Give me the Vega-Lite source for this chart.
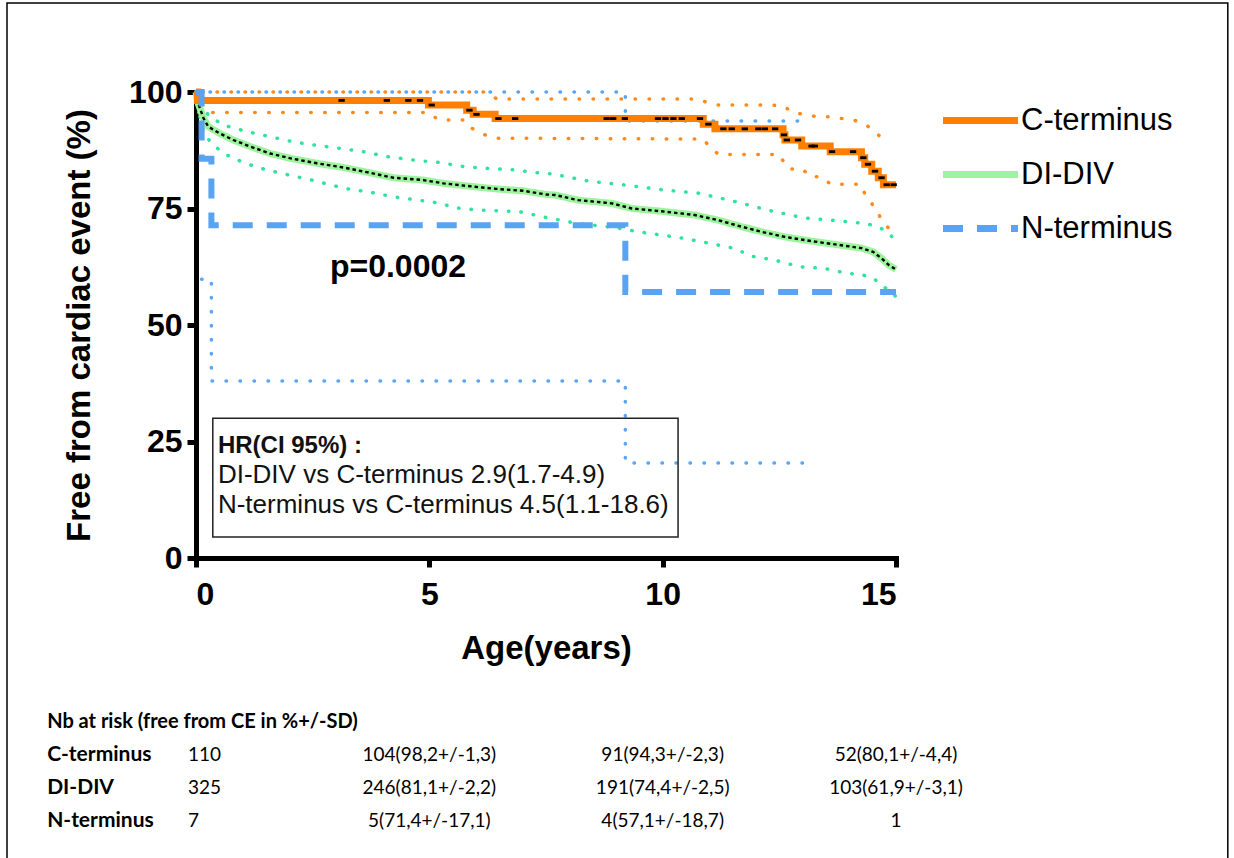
{
  "$schema": "https://vega.github.io/schema/vega-lite/v6.json",
  "width": 700,
  "height": 466,
  "autosize": "none",
  "padding": {"left": 196, "top": 92, "right": 338, "bottom": 300},
  "background": "white",
  "config": {
    "view": {"stroke": null},
    "font": "Liberation Sans",
    "axis": {
      "grid": false,
      "domainColor": "black",
      "domainWidth": 5,
      "domainCap": "square",
      "tickColor": "black",
      "tickWidth": 5,
      "tickSize": 9,
      "labelFont": "Liberation Sans",
      "labelFontWeight": "bold",
      "labelFontSize": 32,
      "labelColor": "black",
      "titleFont": "Liberation Sans",
      "titleFontWeight": "bold",
      "titleFontSize": 33,
      "titleColor": "black"
    },
    "axisX": {"labelPadding": 12, "titlePadding": 22},
    "axisY": {"labelPadding": 5, "titlePadding": 32}
  },
  "datasets": {
    "km": [
      {"g": "C-terminus", "t": 0, "s": 100},
      {"g": "C-terminus", "t": 0.03, "s": 98.2},
      {"g": "C-terminus", "t": 4.98, "s": 97.2},
      {"g": "C-terminus", "t": 5.8, "s": 96.1},
      {"g": "C-terminus", "t": 5.94, "s": 95.2},
      {"g": "C-terminus", "t": 6.41, "s": 94.3},
      {"g": "C-terminus", "t": 10.87, "s": 93.1},
      {"g": "C-terminus", "t": 11.12, "s": 92.1},
      {"g": "C-terminus", "t": 12.58, "s": 90.8},
      {"g": "C-terminus", "t": 12.62, "s": 89.7},
      {"g": "C-terminus", "t": 12.98, "s": 88.4},
      {"g": "C-terminus", "t": 13.59, "s": 87.2},
      {"g": "C-terminus", "t": 14.26, "s": 85.9},
      {"g": "C-terminus", "t": 14.33, "s": 84.5},
      {"g": "C-terminus", "t": 14.48, "s": 83.0},
      {"g": "C-terminus", "t": 14.62, "s": 81.6},
      {"g": "C-terminus", "t": 14.73, "s": 80.1},
      {"g": "C-terminus", "t": 15.0, "s": 80.1},
      {"g": "DI-DIV", "t": 0, "s": 100},
      {"g": "DI-DIV", "t": 0.05, "s": 97.5},
      {"g": "DI-DIV", "t": 0.16, "s": 94.4},
      {"g": "DI-DIV", "t": 0.26, "s": 92.6},
      {"g": "DI-DIV", "t": 0.51, "s": 91.1},
      {"g": "DI-DIV", "t": 0.8, "s": 89.7},
      {"g": "DI-DIV", "t": 1.16, "s": 88.3},
      {"g": "DI-DIV", "t": 1.59, "s": 86.8},
      {"g": "DI-DIV", "t": 2.01, "s": 85.8},
      {"g": "DI-DIV", "t": 2.59, "s": 84.7},
      {"g": "DI-DIV", "t": 3.16, "s": 83.8},
      {"g": "DI-DIV", "t": 3.66, "s": 82.8},
      {"g": "DI-DIV", "t": 4.23, "s": 81.6},
      {"g": "DI-DIV", "t": 4.87, "s": 81.1},
      {"g": "DI-DIV", "t": 5.3, "s": 80.4},
      {"g": "DI-DIV", "t": 5.94, "s": 79.7},
      {"g": "DI-DIV", "t": 6.44, "s": 79.2},
      {"g": "DI-DIV", "t": 7.01, "s": 78.8},
      {"g": "DI-DIV", "t": 7.51, "s": 78.0},
      {"g": "DI-DIV", "t": 7.69, "s": 77.9},
      {"g": "DI-DIV", "t": 8.19, "s": 76.8},
      {"g": "DI-DIV", "t": 8.91, "s": 76.1},
      {"g": "DI-DIV", "t": 9.34, "s": 75.0},
      {"g": "DI-DIV", "t": 9.98, "s": 74.4},
      {"g": "DI-DIV", "t": 10.69, "s": 73.6},
      {"g": "DI-DIV", "t": 11.19, "s": 72.5},
      {"g": "DI-DIV", "t": 11.69, "s": 71.1},
      {"g": "DI-DIV", "t": 12.12, "s": 70.0},
      {"g": "DI-DIV", "t": 12.62, "s": 68.9},
      {"g": "DI-DIV", "t": 13.19, "s": 68.0},
      {"g": "DI-DIV", "t": 13.69, "s": 67.3},
      {"g": "DI-DIV", "t": 14.26, "s": 66.5},
      {"g": "DI-DIV", "t": 14.51, "s": 65.7},
      {"g": "DI-DIV", "t": 14.69, "s": 64.3},
      {"g": "DI-DIV", "t": 14.84, "s": 62.9},
      {"g": "DI-DIV", "t": 15.0, "s": 61.9},
      {"g": "N-terminus", "t": 0, "s": 100},
      {"g": "N-terminus", "t": 0.12, "s": 85.7},
      {"g": "N-terminus", "t": 0.33, "s": 71.4},
      {"g": "N-terminus", "t": 9.2, "s": 57.1},
      {"g": "N-terminus", "t": 15.0, "s": 57.1}
    ],
    "ci": [
      {"g": "C-terminus", "b": "upper", "t": 0, "s": 100},
      {"g": "C-terminus", "b": "upper", "t": 6.2, "s": 100},
      {"g": "C-terminus", "b": "upper", "t": 6.45, "s": 98.5},
      {"g": "C-terminus", "b": "upper", "t": 10.75, "s": 98.5},
      {"g": "C-terminus", "b": "upper", "t": 10.91, "s": 97.9},
      {"g": "C-terminus", "b": "upper", "t": 11.16, "s": 97.2},
      {"g": "C-terminus", "b": "upper", "t": 12.34, "s": 97.2},
      {"g": "C-terminus", "b": "upper", "t": 12.61, "s": 96.9},
      {"g": "C-terminus", "b": "upper", "t": 12.77, "s": 95.6},
      {"g": "C-terminus", "b": "upper", "t": 13.02, "s": 95.2},
      {"g": "C-terminus", "b": "upper", "t": 13.3, "s": 94.7},
      {"g": "C-terminus", "b": "upper", "t": 13.59, "s": 94.7},
      {"g": "C-terminus", "b": "upper", "t": 13.84, "s": 94.3},
      {"g": "C-terminus", "b": "upper", "t": 14.09, "s": 94.0},
      {"g": "C-terminus", "b": "upper", "t": 14.33, "s": 93.1},
      {"g": "C-terminus", "b": "upper", "t": 14.52, "s": 91.8},
      {"g": "C-terminus", "b": "upper", "t": 14.66, "s": 90.4},
      {"g": "C-terminus", "b": "upper", "t": 14.76, "s": 88.6},
      {"g": "C-terminus", "b": "lower", "t": 0, "s": 100},
      {"g": "C-terminus", "b": "lower", "t": 0.05, "s": 95.6},
      {"g": "C-terminus", "b": "lower", "t": 4.98, "s": 95.6},
      {"g": "C-terminus", "b": "lower", "t": 5.2, "s": 94.0},
      {"g": "C-terminus", "b": "lower", "t": 5.75, "s": 94.0},
      {"g": "C-terminus", "b": "lower", "t": 5.85, "s": 92.6},
      {"g": "C-terminus", "b": "lower", "t": 6.1, "s": 91.1},
      {"g": "C-terminus", "b": "lower", "t": 6.41, "s": 90.1},
      {"g": "C-terminus", "b": "lower", "t": 10.87, "s": 89.9},
      {"g": "C-terminus", "b": "lower", "t": 11.0, "s": 88.3},
      {"g": "C-terminus", "b": "lower", "t": 11.2, "s": 86.6},
      {"g": "C-terminus", "b": "lower", "t": 12.5, "s": 86.6},
      {"g": "C-terminus", "b": "lower", "t": 12.58, "s": 85.2},
      {"g": "C-terminus", "b": "lower", "t": 12.7, "s": 83.5},
      {"g": "C-terminus", "b": "lower", "t": 13.0, "s": 83.5},
      {"g": "C-terminus", "b": "lower", "t": 13.15, "s": 81.8},
      {"g": "C-terminus", "b": "lower", "t": 13.4, "s": 81.8},
      {"g": "C-terminus", "b": "lower", "t": 13.6, "s": 80.2},
      {"g": "C-terminus", "b": "lower", "t": 14.25, "s": 80.2},
      {"g": "C-terminus", "b": "lower", "t": 14.33, "s": 78.2},
      {"g": "C-terminus", "b": "lower", "t": 14.45, "s": 76.6},
      {"g": "C-terminus", "b": "lower", "t": 14.55, "s": 74.9},
      {"g": "C-terminus", "b": "lower", "t": 14.66, "s": 73.2},
      {"g": "C-terminus", "b": "lower", "t": 14.78, "s": 71.5},
      {"g": "C-terminus", "b": "lower", "t": 14.95, "s": 69.5},
      {"g": "DI-DIV", "b": "upper", "t": 0, "s": 100},
      {"g": "DI-DIV", "b": "upper", "t": 0.1, "s": 97.0},
      {"g": "DI-DIV", "b": "upper", "t": 0.3, "s": 94.7},
      {"g": "DI-DIV", "b": "upper", "t": 0.59, "s": 92.9},
      {"g": "DI-DIV", "b": "upper", "t": 1.09, "s": 91.5},
      {"g": "DI-DIV", "b": "upper", "t": 1.59, "s": 90.4},
      {"g": "DI-DIV", "b": "upper", "t": 2.09, "s": 89.3},
      {"g": "DI-DIV", "b": "upper", "t": 2.55, "s": 88.6},
      {"g": "DI-DIV", "b": "upper", "t": 3.09, "s": 87.9},
      {"g": "DI-DIV", "b": "upper", "t": 3.58, "s": 87.2},
      {"g": "DI-DIV", "b": "upper", "t": 4.12, "s": 86.1},
      {"g": "DI-DIV", "b": "upper", "t": 4.66, "s": 85.4},
      {"g": "DI-DIV", "b": "upper", "t": 5.19, "s": 84.9},
      {"g": "DI-DIV", "b": "upper", "t": 5.73, "s": 84.0},
      {"g": "DI-DIV", "b": "upper", "t": 6.26, "s": 83.6},
      {"g": "DI-DIV", "b": "upper", "t": 6.8, "s": 83.3},
      {"g": "DI-DIV", "b": "upper", "t": 7.37, "s": 82.6},
      {"g": "DI-DIV", "b": "upper", "t": 7.65, "s": 82.4},
      {"g": "DI-DIV", "b": "upper", "t": 8.4, "s": 80.9},
      {"g": "DI-DIV", "b": "upper", "t": 9.23, "s": 80.0},
      {"g": "DI-DIV", "b": "upper", "t": 10.0, "s": 79.0},
      {"g": "DI-DIV", "b": "upper", "t": 10.76, "s": 78.3},
      {"g": "DI-DIV", "b": "upper", "t": 11.55, "s": 76.5},
      {"g": "DI-DIV", "b": "upper", "t": 12.23, "s": 74.7},
      {"g": "DI-DIV", "b": "upper", "t": 13.01, "s": 73.0},
      {"g": "DI-DIV", "b": "upper", "t": 13.84, "s": 72.3},
      {"g": "DI-DIV", "b": "upper", "t": 14.33, "s": 71.8},
      {"g": "DI-DIV", "b": "upper", "t": 14.62, "s": 71.1},
      {"g": "DI-DIV", "b": "upper", "t": 14.8, "s": 70.0},
      {"g": "DI-DIV", "b": "upper", "t": 15.0, "s": 68.2},
      {"g": "DI-DIV", "b": "lower", "t": 0, "s": 100},
      {"g": "DI-DIV", "b": "lower", "t": 0.05, "s": 96.0},
      {"g": "DI-DIV", "b": "lower", "t": 0.15, "s": 92.0},
      {"g": "DI-DIV", "b": "lower", "t": 0.3, "s": 89.3},
      {"g": "DI-DIV", "b": "lower", "t": 0.59, "s": 86.8},
      {"g": "DI-DIV", "b": "lower", "t": 1.05, "s": 84.7},
      {"g": "DI-DIV", "b": "lower", "t": 1.51, "s": 83.3},
      {"g": "DI-DIV", "b": "lower", "t": 1.98, "s": 82.2},
      {"g": "DI-DIV", "b": "lower", "t": 2.48, "s": 81.1},
      {"g": "DI-DIV", "b": "lower", "t": 3.19, "s": 79.3},
      {"g": "DI-DIV", "b": "lower", "t": 3.73, "s": 78.5},
      {"g": "DI-DIV", "b": "lower", "t": 4.23, "s": 77.5},
      {"g": "DI-DIV", "b": "lower", "t": 4.76, "s": 76.8},
      {"g": "DI-DIV", "b": "lower", "t": 5.26, "s": 76.1},
      {"g": "DI-DIV", "b": "lower", "t": 5.51, "s": 75.2},
      {"g": "DI-DIV", "b": "lower", "t": 6.01, "s": 74.7},
      {"g": "DI-DIV", "b": "lower", "t": 6.94, "s": 74.3},
      {"g": "DI-DIV", "b": "lower", "t": 7.44, "s": 73.2},
      {"g": "DI-DIV", "b": "lower", "t": 8.16, "s": 71.8},
      {"g": "DI-DIV", "b": "lower", "t": 8.98, "s": 70.9},
      {"g": "DI-DIV", "b": "lower", "t": 9.48, "s": 70.0},
      {"g": "DI-DIV", "b": "lower", "t": 9.98, "s": 69.3},
      {"g": "DI-DIV", "b": "lower", "t": 10.51, "s": 68.5},
      {"g": "DI-DIV", "b": "lower", "t": 11.01, "s": 67.5},
      {"g": "DI-DIV", "b": "lower", "t": 11.51, "s": 66.5},
      {"g": "DI-DIV", "b": "lower", "t": 11.94, "s": 64.7},
      {"g": "DI-DIV", "b": "lower", "t": 12.41, "s": 63.9},
      {"g": "DI-DIV", "b": "lower", "t": 12.94, "s": 62.5},
      {"g": "DI-DIV", "b": "lower", "t": 13.44, "s": 62.2},
      {"g": "DI-DIV", "b": "lower", "t": 13.94, "s": 61.1},
      {"g": "DI-DIV", "b": "lower", "t": 14.23, "s": 60.9},
      {"g": "DI-DIV", "b": "lower", "t": 14.48, "s": 60.2},
      {"g": "DI-DIV", "b": "lower", "t": 14.66, "s": 59.0},
      {"g": "DI-DIV", "b": "lower", "t": 14.8, "s": 57.7},
      {"g": "DI-DIV", "b": "lower", "t": 15.0, "s": 56.1},
      {"g": "N-terminus", "b": "upper", "t": 0, "s": 100},
      {"g": "N-terminus", "b": "upper", "t": 9.2, "s": 93.8},
      {"g": "N-terminus", "b": "upper", "t": 13.0, "s": 93.8},
      {"g": "N-terminus", "b": "lower", "t": 0.12, "s": 59.8},
      {"g": "N-terminus", "b": "lower", "t": 0.33, "s": 38.0},
      {"g": "N-terminus", "b": "lower", "t": 9.2, "s": 20.4},
      {"g": "N-terminus", "b": "lower", "t": 13.0, "s": 20.4}
    ],
    "censor": [
      {"t": 3.12, "s": 98.2}, {"t": 4.09, "s": 98.2}, {"t": 4.55, "s": 98.2}, {"t": 4.8, "s": 98.2},
      {"t": 5.05, "s": 97.2}, {"t": 5.86, "s": 96.1}, {"t": 6.01, "s": 95.2}, {"t": 6.48, "s": 94.3},
      {"t": 6.84, "s": 94.3}, {"t": 8.8, "s": 94.3}, {"t": 8.94, "s": 94.3}, {"t": 9.19, "s": 94.3},
      {"t": 9.9, "s": 94.3}, {"t": 10.06, "s": 94.3}, {"t": 10.23, "s": 94.3}, {"t": 10.41, "s": 94.3},
      {"t": 10.8, "s": 94.3}, {"t": 10.98, "s": 93.1}, {"t": 11.3, "s": 92.1}, {"t": 11.48, "s": 92.1},
      {"t": 11.76, "s": 92.1}, {"t": 12.05, "s": 92.1}, {"t": 12.19, "s": 92.1}, {"t": 12.41, "s": 92.1},
      {"t": 12.6, "s": 90.8}, {"t": 12.66, "s": 89.7}, {"t": 12.9, "s": 89.7}, {"t": 13.19, "s": 88.4},
      {"t": 13.26, "s": 88.4}, {"t": 13.63, "s": 87.2}, {"t": 14.08, "s": 87.2}, {"t": 14.3, "s": 85.9},
      {"t": 14.4, "s": 84.5}, {"t": 14.55, "s": 83.0}, {"t": 14.69, "s": 81.6}, {"t": 14.8, "s": 80.1},
      {"t": 14.95, "s": 80.1}
    ],
    "table": [
      {"row": "C-terminus", "t": 0, "text": "110"},
      {"row": "C-terminus", "t": 5, "text": "104(98,2+/-1,3)"},
      {"row": "C-terminus", "t": 10, "text": "91(94,3+/-2,3)"},
      {"row": "C-terminus", "t": 15, "text": "52(80,1+/-4,4)"},
      {"row": "DI-DIV", "t": 0, "text": "325"},
      {"row": "DI-DIV", "t": 5, "text": "246(81,1+/-2,2)"},
      {"row": "DI-DIV", "t": 10, "text": "191(74,4+/-2,5)"},
      {"row": "DI-DIV", "t": 15, "text": "103(61,9+/-3,1)"},
      {"row": "N-terminus", "t": 0, "text": "7"},
      {"row": "N-terminus", "t": 5, "text": "5(71,4+/-17,1)"},
      {"row": "N-terminus", "t": 10, "text": "4(57,1+/-18,7)"},
      {"row": "N-terminus", "t": 15, "text": "1"}
    ]
  },
  "layer": [
    {
      "layer": [
        {
          "data": {"name": "ci"},
          "transform": [{"filter": "datum.g == 'DI-DIV'"}],
          "mark": {"type": "line", "color": "#30e39d", "strokeWidth": 3.5, "strokeDash": [0.5, 12], "strokeCap": "round", "interpolate": "linear"},
          "encoding": {
            "x": {"field": "t", "type": "quantitative", "scale": {"domain": [0, 15], "nice": false}, "title": "Age(years)", "axis": {"values": [0, 5, 10, 15]}},
            "y": {"field": "s", "type": "quantitative", "scale": {"domain": [0, 100], "nice": false}, "title": "Free from cardiac event (%)", "axis": {"values": [0, 25, 50, 75, 100]}},
            "detail": {"field": "b"}
          }
        },
        {
          "data": {"name": "ci"},
          "transform": [{"filter": "datum.g == 'C-terminus'"}],
          "mark": {"type": "line", "color": "#ff8a1c", "strokeWidth": 3.5, "strokeDash": [0.5, 13.5], "strokeDashOffset": 7, "strokeCap": "round", "interpolate": "linear"},
          "encoding": {
            "x": {"field": "t", "type": "quantitative", "title": "Age(years)"},
            "y": {"field": "s", "type": "quantitative", "title": "Free from cardiac event (%)"},
            "detail": {"field": "b"}
          }
        },
        {
          "data": {"name": "ci"},
          "transform": [{"filter": "datum.g == 'N-terminus'"}],
          "mark": {"type": "line", "color": "#5aa5f5", "strokeWidth": 3.5, "strokeDash": [0.5, 13.5], "strokeCap": "round", "interpolate": "step-after"},
          "encoding": {
            "x": {"field": "t", "type": "quantitative", "title": "Age(years)"},
            "y": {"field": "s", "type": "quantitative", "title": "Free from cardiac event (%)"},
            "detail": {"field": "b"}
          }
        },
        {
          "data": {"name": "km"},
          "transform": [{"filter": "datum.g == 'DI-DIV'"}],
          "mark": {"type": "line", "strokeWidth": 7, "interpolate": "linear"},
          "encoding": {
            "x": {"field": "t", "type": "quantitative", "title": "Age(years)"},
            "y": {"field": "s", "type": "quantitative", "title": "Free from cardiac event (%)"},
            "color": {"field": "g", "type": "nominal", "scale": {"domain": ["C-terminus", "DI-DIV", "N-terminus"], "range": ["#ff8000", "#9cf59c", "#5aa2f2"]},
              "legend": {"title": null, "symbolType": "M-2.5,0H2.5", "symbolSize": 900, "symbolStrokeWidth": 7, "labelFont": "Liberation Sans", "labelFontSize": 31, "labelFontWeight": "normal", "labelColor": "black", "rowPadding": 20, "labelOffset": 22, "offset": 42, "padding": 10, "orient": "right"}},
            "strokeDash": {"field": "g", "type": "nominal", "scale": {"domain": ["C-terminus", "DI-DIV", "N-terminus"], "range": [[1, 0], [1, 0], [20, 14]]}}
          }
        },
        {
          "data": {"name": "km"},
          "transform": [{"filter": "datum.g == 'DI-DIV'"}],
          "mark": {"type": "line", "strokeWidth": 2.4, "color": "black", "strokeDash": [3.5, 3], "interpolate": "linear"},
          "encoding": {
            "x": {"field": "t", "type": "quantitative", "title": "Age(years)"},
            "y": {"field": "s", "type": "quantitative", "title": "Free from cardiac event (%)"}
          }
        },
        {
          "data": {"name": "km"},
          "transform": [{"filter": "datum.g == 'C-terminus'"}],
          "mark": {"type": "line", "strokeWidth": 7, "interpolate": "step-after"},
          "encoding": {
            "x": {"field": "t", "type": "quantitative", "title": "Age(years)"},
            "y": {"field": "s", "type": "quantitative", "title": "Free from cardiac event (%)"},
            "color": {"field": "g", "type": "nominal", "scale": {"domain": ["C-terminus", "DI-DIV", "N-terminus"], "range": ["#ff8000", "#9cf59c", "#5aa2f2"]}},
            "strokeDash": {"field": "g", "type": "nominal", "scale": {"domain": ["C-terminus", "DI-DIV", "N-terminus"], "range": [[1, 0], [1, 0], [20, 14]]}}
          }
        },
        {
          "data": {"name": "km"},
          "transform": [{"filter": "datum.g == 'N-terminus'"}],
          "mark": {"type": "line", "strokeWidth": 6, "interpolate": "step-after"},
          "encoding": {
            "x": {"field": "t", "type": "quantitative", "title": "Age(years)"},
            "y": {"field": "s", "type": "quantitative", "title": "Free from cardiac event (%)"},
            "color": {"field": "g", "type": "nominal", "scale": {"domain": ["C-terminus", "DI-DIV", "N-terminus"], "range": ["#ff8000", "#9cf59c", "#5aa2f2"]}},
            "strokeDash": {"field": "g", "type": "nominal", "scale": {"domain": ["C-terminus", "DI-DIV", "N-terminus"], "range": [[1, 0], [1, 0], [20, 14]]}}
          }
        },
        {
          "data": {"name": "censor"},
          "mark": {"type": "point", "shape": "M-1,-0.45H1V0.45H-1Z", "size": 40, "filled": true, "color": "black", "opacity": 1},
          "encoding": {
            "x": {"field": "t", "type": "quantitative", "title": "Age(years)"},
            "y": {"field": "s", "type": "quantitative", "title": "Free from cardiac event (%)"}
          }
        },
        {
          "data": {"values": [{"note": "p=0.0002"}]},
          "mark": {"type": "text", "align": "left", "baseline": "alphabetic", "font": "Liberation Sans", "fontWeight": "bold", "fontSize": 32, "color": "black"},
          "encoding": {"x": {"datum": 2.87}, "y": {"datum": 60.3}, "text": {"field": "note"}}
        },
        {
          "data": {"values": [{"box": "HR"}]},
          "mark": {"type": "rect", "fill": null, "fillOpacity": 0, "stroke": "#222222", "strokeWidth": 1.5},
          "encoding": {"x": {"datum": 0.36}, "x2": {"datum": 10.33}, "y": {"datum": 30.0}, "y2": {"datum": 4.5}}
        },
        {
          "data": {"values": [{"note": "HR(CI 95%) :"}]},
          "mark": {"type": "text", "align": "left", "baseline": "alphabetic", "font": "Liberation Sans", "fontWeight": "bold", "fontSize": 24, "color": "#111111"},
          "encoding": {"x": {"datum": 0.47}, "y": {"datum": 22.5}, "text": {"field": "note"}}
        },
        {
          "data": {"values": [{"note": "DI-DIV vs C-terminus 2.9(1.7-4.9)"}]},
          "mark": {"type": "text", "align": "left", "baseline": "alphabetic", "font": "Liberation Sans", "fontSize": 26, "color": "#111111"},
          "encoding": {"x": {"datum": 0.47}, "y": {"datum": 16.1}, "text": {"field": "note"}}
        },
        {
          "data": {"values": [{"note": "N-terminus vs C-terminus 4.5(1.1-18.6)"}]},
          "mark": {"type": "text", "align": "left", "baseline": "alphabetic", "font": "Liberation Sans", "fontSize": 26, "color": "#111111"},
          "encoding": {"x": {"datum": 0.47}, "y": {"datum": 9.66}, "text": {"field": "note"}}
        },
        {
          "data": {"values": [{"frame": "outer"}]},
          "mark": {"type": "rect", "fill": null, "fillOpacity": 0, "stroke": "black", "strokeWidth": 1.5},
          "encoding": {"x": {"datum": -4.05}, "x2": {"datum": 22.11}, "y": {"datum": 119.1}, "y2": {"datum": -70}}
        }
      ]
    },
    {
      "encoding": {
        "y": {"field": "row", "type": "nominal", "scale": {"type": "point", "padding": 0, "domain": ["header", "C-terminus", "DI-DIV", "N-terminus"], "range": [630, 729]}, "axis": null}
      },
      "layer": [
        {
          "data": {"values": [{"row": "header", "label": "Nb at risk  (free from CE in %+/-SD)"}]},
          "mark": {"type": "text", "align": "left", "baseline": "middle", "font": "Lato", "fontWeight": "bold", "fontSize": 20, "color": "black"},
          "encoding": {"x": {"datum": -3.19}, "text": {"field": "label"}}
        },
        {
          "data": {"name": "table"},
          "transform": [{"filter": "datum.t == 0"}],
          "mark": {"type": "text", "align": "left", "baseline": "middle", "font": "Lato", "fontWeight": "bold", "fontSize": 21, "color": "black"},
          "encoding": {"x": {"datum": -3.19}, "text": {"field": "row"}}
        },
        {
          "data": {"name": "table"},
          "transform": [{"filter": "datum.t == 0"}],
          "mark": {"type": "text", "align": "left", "dx": -8, "baseline": "middle", "font": "Lato", "fontSize": 19, "color": "black"},
          "encoding": {"x": {"field": "t", "type": "quantitative", "title": "Age(years)"}, "text": {"field": "text"}}
        },
        {
          "data": {"name": "table"},
          "transform": [{"filter": "datum.t > 0"}],
          "mark": {"type": "text", "align": "center", "baseline": "middle", "font": "Lato", "fontSize": 19, "color": "black"},
          "encoding": {"x": {"field": "t", "type": "quantitative", "title": "Age(years)"}, "text": {"field": "text"}}
        }
      ]
    }
  ],
  "resolve": {"scale": {"y": "independent"}}
}
